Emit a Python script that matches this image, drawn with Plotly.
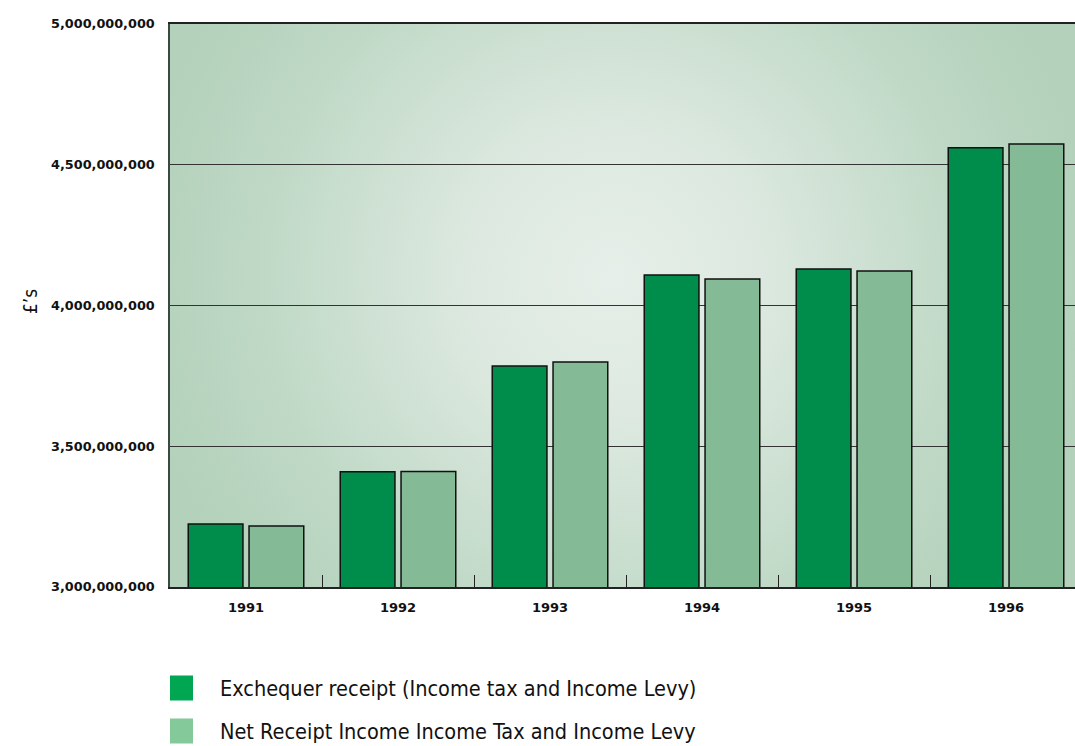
import base64
import plotly.graph_objects as go

years = ["1991", "1992", "1993", "1994", "1995", "1996"]
exchequer = [3.224e9, 3.409e9, 3.785e9, 4.108e9, 4.130e9, 4.560e9]
net_receipt = [3.217e9, 3.410e9, 3.799e9, 4.094e9, 4.123e9, 4.574e9]
series_names = ["Exchequer receipt (Income tax and Income Levy)",
                "Net Receipt Income Income Tax and Income Levy"]
y_ticks = [3.0e9, 3.5e9, 4.0e9, 4.5e9, 5.0e9]
y_tick_labels = ["3,000,000,000", "3,500,000,000", "4,000,000,000",
                 "4,500,000,000", "5,000,000,000"]

bar_colors = ["#008c4a", "#84ba96"]
legend_colors = ["#00a651", "#84c99a"]

W, H = 1075, 746
ML, MR, MT, MB = 170, 0, 24, 159
PW, PH = W - ML - MR, H - MT - MB

svg = f'''<svg xmlns="http://www.w3.org/2000/svg" width="{PW}" height="{PH}" viewBox="0 0 {PW} {PH}">
<defs><radialGradient id="g" gradientUnits="userSpaceOnUse" cx="{PW*0.49:.0f}" cy="{PH*0.45:.0f}" r="480">
<stop offset="0" stop-color="#e6efe9"/>
<stop offset="0.3" stop-color="#dde9e0"/>
<stop offset="0.75" stop-color="#bed8c5"/>
<stop offset="1" stop-color="#b3d1bb"/>
</radialGradient></defs>
<rect width="{PW}" height="{PH}" fill="url(#g)"/></svg>'''
bg_src = "data:image/svg+xml;base64," + base64.b64encode(svg.encode()).decode()

fig = go.Figure()
for vals, name, col in zip([exchequer, net_receipt], series_names, bar_colors):
    fig.add_trace(go.Bar(
        x=years, y=vals, name=name,
        marker=dict(color=col, line=dict(color="#111111", width=1.5)),
        showlegend=False,
    ))

fig.update_layout(
    width=W, height=H,
    margin=dict(l=ML, r=MR, t=MT, b=MB, pad=0),
    paper_bgcolor="white",
    plot_bgcolor="#c6dccb",
    barmode="group",
    bargap=0.2,
    bargroupgap=0.1,
    font=dict(family="DejaVu Sans", color="#111111"),
    images=[dict(source=bg_src, xref="paper", yref="paper", x=0, y=1,
                 sizex=1, sizey=1, sizing="stretch", xanchor="left",
                 yanchor="top", layer="below")],
)

fig.update_xaxes(
    type="category",
    range=[-0.5, -0.5 + 6 * PW / 912],
    showgrid=False,
    showline=True, linecolor="#222222", linewidth=1.5,
    mirror=True,
    ticks="inside", tickson="boundaries", ticklen=12, tickwidth=1.2,
    tickcolor="#222222",
    tickfont=dict(family="DejaVu Sans", size=13, weight="bold", color="#111111"),
    ticklabelstandoff=8,
)
fig.update_yaxes(
    range=[3.0e9, 5.0e9],
    tickvals=y_ticks, ticktext=y_tick_labels,
    showgrid=True, gridcolor="#333333", gridwidth=1,
    showline=True, linecolor="#3a4a40", linewidth=1.5,
    ticks="",
    ticklabelstandoff=11,
    tickfont=dict(family="DejaVu Sans", size=12.8, weight="bold", color="#111111"),
    zeroline=False,
)

# y-axis title
fig.add_annotation(text="£’s", xref="paper", yref="paper",
                   x=(30 - ML) / PW, y=(H - MB - 302) / PH,
                   xanchor="center", yanchor="middle", textangle=-90,
                   showarrow=False,
                   font=dict(family="DejaVu Sans Condensed, DejaVu Sans", size=19, color="#111111"))

# custom legend
legend_rows = [688, 731]
for name, col, yc in zip(series_names, legend_colors, legend_rows):
    fig.add_shape(type="rect", xref="paper", yref="paper",
                  x0=0, x1=(193 - ML) / PW,
                  y0=(H - MB - (yc + 12.5)) / PH, y1=(H - MB - (yc - 12.5)) / PH,
                  fillcolor=col, line=dict(width=0))
    fig.add_annotation(text=name, xref="paper", yref="paper",
                       x=(219 - ML) / PW, y=(H - MB - yc) / PH,
                       xanchor="left", yanchor="middle", showarrow=False,
                       borderpad=0,
                       font=dict(family="DejaVu Sans Condensed, DejaVu Sans", size=21.5, color="#111111"))

fig.write_html("out.html", config={"displayModeBar": False},
               post_script="document.body.style.margin='0';document.body.style.overflow='hidden';")
